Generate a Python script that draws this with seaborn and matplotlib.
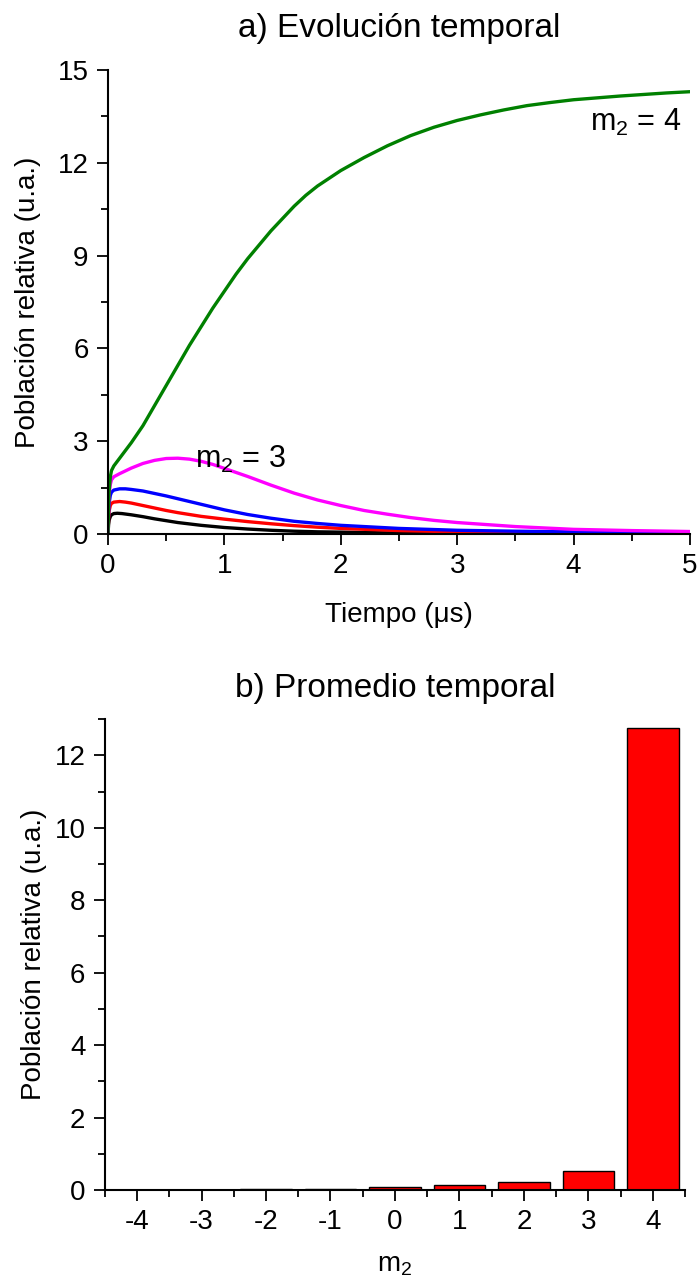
"""
Reproduce la figura: a) evolución temporal de poblaciones y b) promedio temporal por m2.
"""
import matplotlib
matplotlib.use("Agg")
import matplotlib.pyplot as plt
from matplotlib.ticker import MultipleLocator
import pandas as pd
import seaborn as sns

# Datos (panel a), tiempo en microsegundos
t_green = [0, 0.005, 0.01, 0.02, 0.03, 0.05, 0.1, 0.2, 0.3, 0.4, 0.5, 0.6, 0.7, 0.8, 0.9, 1.0,
           1.1, 1.2, 1.3, 1.4, 1.5, 1.6, 1.7, 1.8, 1.9, 2.0, 2.2, 2.4, 2.6, 2.8, 3.0, 3.2, 3.4,
           3.6, 3.8, 4.0, 4.2, 4.4, 4.6, 4.8, 5.0]
v_green = [0, 0.9, 1.4, 1.85, 2.05, 2.2, 2.45, 2.95, 3.5, 4.15, 4.8, 5.45, 6.1, 6.7, 7.3, 7.85,
           8.4, 8.9, 9.35, 9.8, 10.2, 10.6, 10.95, 11.25, 11.5, 11.75, 12.17, 12.55, 12.88, 13.15,
           13.37, 13.55, 13.71, 13.85, 13.95, 14.04, 14.1, 14.16, 14.21, 14.26, 14.3]

t_mag = [0, 0.005, 0.01, 0.02, 0.03, 0.05, 0.1, 0.2, 0.3, 0.4, 0.5, 0.6, 0.7, 0.8, 0.9, 1.0,
         1.2, 1.4, 1.6, 1.8, 2.0, 2.2, 2.4, 2.6, 2.8, 3.0, 3.5, 4.0, 4.5, 5.0]
v_mag = [0, 0.9, 1.3, 1.6, 1.75, 1.85, 1.95, 2.13, 2.28, 2.38, 2.44, 2.45, 2.42, 2.35, 2.25,
         2.12, 1.86, 1.58, 1.32, 1.1, 0.92, 0.76, 0.64, 0.53, 0.44, 0.37, 0.24, 0.15, 0.11, 0.08]

t_blue = [0, 0.005, 0.01, 0.02, 0.03, 0.05, 0.1, 0.15, 0.2, 0.3, 0.4, 0.5, 0.6, 0.7, 0.8, 0.9,
          1.0, 1.2, 1.4, 1.6, 1.8, 2.0, 2.5, 3.0, 3.5, 4.0, 4.5, 5.0]
v_blue = [0, 0.7, 1.0, 1.25, 1.35, 1.42, 1.46, 1.46, 1.44, 1.39, 1.31, 1.23, 1.14, 1.05, 0.96,
          0.87, 0.78, 0.63, 0.51, 0.41, 0.34, 0.28, 0.18, 0.12, 0.09, 0.07, 0.06, 0.05]

t_red = [0, 0.005, 0.01, 0.02, 0.03, 0.05, 0.1, 0.15, 0.2, 0.3, 0.4, 0.5, 0.6, 0.8, 1.0, 1.2,
         1.4, 1.6, 1.8, 2.0, 2.5, 3.0, 3.5, 4.0, 4.5, 5.0]
v_red = [0, 0.5, 0.75, 0.92, 0.99, 1.03, 1.05, 1.03, 1.0, 0.92, 0.84, 0.76, 0.69, 0.57, 0.48,
         0.4, 0.33, 0.27, 0.22, 0.18, 0.11, 0.07, 0.05, 0.04, 0.03, 0.02]

t_black = [0, 0.005, 0.01, 0.02, 0.03, 0.05, 0.08, 0.12, 0.2, 0.3, 0.4, 0.5, 0.6, 0.8, 1.0, 1.2,
           1.4, 1.6, 1.8, 2.0, 2.5, 3.0, 3.5, 4.0, 5.0]
v_black = [0, 0.3, 0.45, 0.56, 0.62, 0.66, 0.67, 0.66, 0.62, 0.56, 0.49, 0.43, 0.37, 0.28, 0.21,
           0.16, 0.12, 0.09, 0.07, 0.06, 0.03, 0.02, 0.01, 0.005, 0.0]

curve_labels = ["0", "1", "2", "3", "4"]
curve_colors = ["black", "red", "blue", "magenta", "green"]

# Datos del panel b
m2_values = [-4, -3, -2, -1, 0, 1, 2, 3, 4]
avg_pop = [0.002, 0.005, 0.02, 0.04, 0.07, 0.125, 0.23, 0.52, 12.75]

# Estilo
sns.set_theme(style="ticks")
plt.rcParams["font.family"] = ["Liberation Sans", "DejaVu Sans"]
plt.rcParams["mathtext.fontset"] = "custom"
plt.rcParams["mathtext.rm"] = "Liberation Sans"
plt.rcParams["mathtext.it"] = "Liberation Sans"
plt.rcParams["axes.unicode_minus"] = False
plt.rcParams["text.color"] = "black"
plt.rcParams["axes.labelcolor"] = "black"
plt.rcParams["xtick.color"] = "black"
plt.rcParams["ytick.color"] = "black"

FS_TICK = 20
FS_LABEL = 20
FS_TITLE = 24
FS_NOTE = 22

fig = plt.figure(figsize=(6.99, 12.83), dpi=100)

# ---------- a) Evolución temporal ----------
ax1 = fig.add_axes([0.1545, 0.5838, 0.8325, 0.3616])
series = [(t_black, v_black), (t_red, v_red), (t_blue, v_blue), (t_mag, v_mag), (t_green, v_green)]
frames = []
for lab, (tt, vv) in zip(curve_labels, series):
    frames.append(pd.DataFrame({"t": tt, "pob": vv, "m2": lab}))
df_lines = pd.concat(frames, ignore_index=True)

sns.lineplot(data=df_lines, x="t", y="pob", hue="m2", hue_order=curve_labels,
             palette=dict(zip(curve_labels, curve_colors)), linewidth=2.4,
             sort=False, estimator=None, legend=False, ax=ax1)

ax1.set_xlim(0, 5)
ax1.set_ylim(0, 15)
ax1.xaxis.set_major_locator(MultipleLocator(1))
ax1.xaxis.set_minor_locator(MultipleLocator(0.5))
ax1.yaxis.set_major_locator(MultipleLocator(3))
ax1.yaxis.set_minor_locator(MultipleLocator(1.5))
ax1.set_xlabel("Tiempo (\u03bcs)", fontsize=FS_LABEL, labelpad=16)
ax1.set_ylabel("Población relativa (u.a.)", fontsize=FS_LABEL, labelpad=12)
ax1.set_title("a) Evolución temporal", fontsize=FS_TITLE, pad=24)
ax1.text(0.75, 2.4, "m$_2$ = 3", fontsize=FS_NOTE, va="center", ha="left")
ax1.text(4.93, 13.3, "m$_2$ = 4", fontsize=FS_NOTE, va="center", ha="right")

# ---------- b) Promedio temporal ----------
ax2 = fig.add_axes([0.150, 0.0725, 0.830, 0.367])
df_bars = pd.DataFrame({"m2": m2_values, "pob": avg_pop})
sns.barplot(data=df_bars, x="m2", y="pob", native_scale=True, color="red",
            saturation=1, edgecolor="black", linewidth=1.0, width=0.8, ax=ax2)

ax2.set_xlim(-4.5, 4.5)
ax2.set_ylim(0, 13)
ax2.xaxis.set_major_locator(MultipleLocator(1))
ax2.xaxis.set_minor_locator(MultipleLocator(0.5))
ax2.yaxis.set_major_locator(MultipleLocator(2))
ax2.yaxis.set_minor_locator(MultipleLocator(1))
ax2.set_xlabel("m$_2$", fontsize=FS_LABEL, labelpad=12)
ax2.set_ylabel("Población relativa (u.a.)", fontsize=FS_LABEL, labelpad=5)
ax2.set_title("b) Promedio temporal", fontsize=FS_TITLE, pad=16)

for ax in (ax1, ax2):
    sns.despine(ax=ax)
    ax.tick_params(which="major", length=8, width=1.3, labelsize=FS_TICK, pad=6)
    ax.tick_params(which="minor", length=5, width=1.3)
    for sp in ("left", "bottom"):
        ax.spines[sp].set_linewidth(1.5)
        ax.spines[sp].set_color("black")

fig.savefig("out.png", dpi=100)
